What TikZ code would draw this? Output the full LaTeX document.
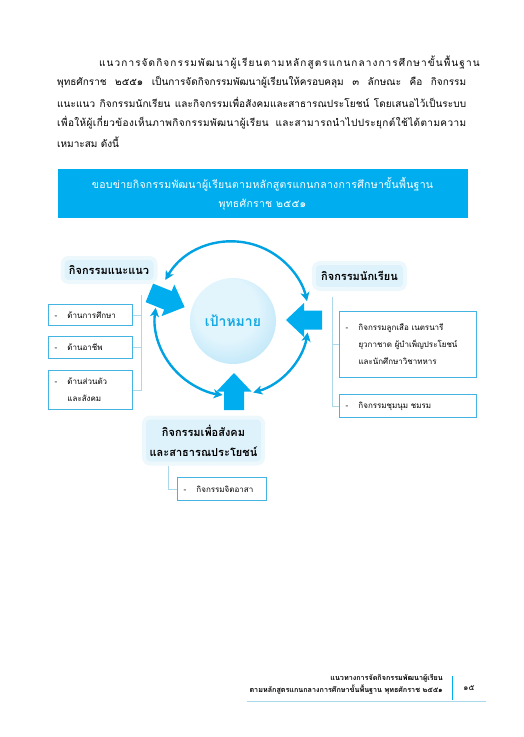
\documentclass[tikz,border=0pt]{standalone}
\usepackage{fontspec}
\usepackage{tikz}
\usetikzlibrary{arrows.meta, positioning, calc}
\setmainfont{Loma}[Script=Thai]
\definecolor{bannercyan}{RGB}{0, 174, 239}
\definecolor{arccyan}{RGB}{0, 162, 226}
\definecolor{glowblue}{RGB}{222, 242, 252}
\definecolor{boxcyan}{RGB}{70, 180, 226}
\definecolor{stemblue}{RGB}{172, 216, 236}
\definecolor{goaltext}{RGB}{22, 168, 226}
\definecolor{goalin}{RGB}{226, 245, 253}
\definecolor{goalout}{RGB}{140, 210, 242}
\pgfdeclareradialshading{goalglow}{\pgfpoint{-6bp}{10bp}}{color(0bp)=(goalin); color(18bp)=(goalin); color(38bp)=(goalout!70); color(50bp)=(goalout)}

\tikzset{
    paraline/.style={anchor=west, inner sep=0pt, font=\fontsize{10}{12}\selectfont},
    glowlabel/.style={fill=glowblue, draw=glowblue!55, line width=4pt, rounded corners=6pt,
        font=\bfseries\fontsize{11}{20}\selectfont, align=center, inner sep=2pt},
    leafbox/.style={draw=boxcyan, line width=1pt, fill=white, anchor=north west,
        font=\fontsize{8}{17}\selectfont, align=left, inner xsep=6pt, inner ysep=0pt},
    blockarrow/.style={fill=bannercyan},
    cyclearc/.style={draw=arccyan, line width=2.4pt,
        {Stealth[length=9pt,width=9pt,inset=2.5pt]}-{Stealth[length=9pt,width=9pt,inset=2.5pt]}},
    stem/.style={draw=stemblue, line width=0.7pt}
}

\begin{document}
\begin{tikzpicture}[x=1pt, y=-1pt]
    \useasboundingbox (0,0) rectangle (524,737);

    % Paragraph
    \node[paraline] (p1) at (99,62.5) {\addfontfeature{LetterSpace=11}แนวการจัดกิจกรรมพัฒนาผู้เรียนตามหลักสูตรแกนกลางการศึกษาขั้นพื้นฐาน};
    \node[paraline] (p2) at (57,82.5) {\makebox[409pt][s]{พุทธศักราช ๒๕๕๑ เป็นการจัดกิจกรรมพัฒนาผู้เรียนให้ครอบคลุม ๓ ลักษณะ คือ กิจกรรม}};
    \node[paraline] (p3) at (57,102.5) {\addfontfeature{LetterSpace=1}\makebox[409pt][s]{แนะแนว กิจกรรมนักเรียน และกิจกรรมเพื่อสังคมและสาธารณประโยชน์ โดยเสนอไว้เป็นระบบ}};
    \node[paraline] (p4) at (57,122.5) {\addfontfeature{LetterSpace=4}\makebox[409pt][s]{เพื่อให้ผู้เกี่ยวข้องเห็นภาพกิจกรรมพัฒนาผู้เรียน และสามารถนำไปประยุกต์ใช้ได้ตามความ}};
    \node[paraline] (p5) at (57,142) {เหมาะสม ดังนี้};

    % Banner
    \node[fill=bannercyan, minimum width=410pt, minimum height=49pt, align=center, text=white,
        font=\fontsize{10.5}{19}\selectfont\addfontfeature{LetterSpace=2.5}] (banner) at (262.5,193.5)
        {ขอบข่ายกิจกรรมพัฒนาผู้เรียนตามหลักสูตรแกนกลางการศึกษาขั้นพื้นฐาน\\พุทธศักราช ๒๕๕๑};

    % Goal and cycle
    \coordinate (hub) at (232,318.5);
    \node[circle, minimum size=86pt, shading=goalglow, text=goaltext,
        font=\bfseries\fontsize{14}{18}\selectfont] (goal) at (233,321) {เป้าหมาย};

    \coordinate (topL) at ($(hub)+(210:77)$);
    \coordinate (leftT) at ($(hub)+(188:77)$);
    \coordinate (rightT) at ($(hub)+(10.5:77)$);
    \draw[cyclearc] (topL) arc[start angle=210, end angle=347, radius=77];
    \draw[cyclearc] (leftT) arc[start angle=188, end angle=97, radius=77];
    \draw[cyclearc] (rightT) arc[start angle=10.5, end angle=74, radius=77];

    % Block arrows into the goal
    \fill[blockarrow, shift={(167,300)}, rotate=-22] (-19,-10) -- (1,-10) -- (1,-17) -- (19,0) -- (1,17) -- (1,10) -- (-19,10) -- cycle;
    \fill[blockarrow, shift={(304,320)}, rotate=180] (-18,-9.5) -- (0,-9.5) -- (0,-17) -- (18,0) -- (0,17) -- (0,9.5) -- (-18,9.5) -- cycle;
    \fill[blockarrow, shift={(234,391.5)}, rotate=90] (-18.5,-10) -- (0,-10) -- (0,-17.5) -- (18.5,0) -- (0,17.5) -- (0,10) -- (-18.5,10) -- cycle;

    % Activity labels
    \node[glowlabel, minimum width=93pt, minimum height=24pt] (guide) at (109,270) {กิจกรรมแนะแนว};
    \node[glowlabel, minimum width=91pt, minimum height=26pt] (student) at (359.5,276) {กิจกรรมนักเรียน};
    \node[glowlabel, minimum width=119pt, minimum height=46pt] (society) at (203.5,440.5)
        {กิจกรรมเพื่อสังคม\\และสาธารณประโยชน์};

    % Guidance items
    \node[leafbox, text width=72pt, minimum height=21pt] (edu) at (48,304)
        {\makebox[13pt][l]{-}ด้านการศึกษา};
    \node[leafbox, text width=72pt, minimum height=22pt] (career) at (48,336)
        {\makebox[13pt][l]{-}ด้านอาชีพ};
    \node[leafbox, text width=72pt, minimum height=39pt] (self) at (48,370)
        {\makebox[13pt][l]{-}ด้านส่วนตัว\\\hspace*{13pt}และสังคม};
    \coordinate (spineL) at (141,295);
    \draw[stem] (spineL) |- (edu.east);
    \draw[stem] (spineL) |- (career.east);
    \draw[stem] (spineL) |- (self.east);

    % Student items
    \node[leafbox, text width=125pt, minimum height=66pt] (scout) at (339,311)
        {\makebox[13pt][l]{-}กิจกรรมลูกเสือ เนตรนารี\\\hspace*{13pt}ยุวกาชาด ผู้บำเพ็ญประโยชน์\\\hspace*{13pt}และนักศึกษาวิชาทหาร};
    \node[leafbox, text width=125pt, minimum height=23pt] (club) at (339,394)
        {\makebox[13pt][l]{-}กิจกรรมชุมนุม ชมรม};
    \coordinate (spineR) at (332,297);
    \draw[stem] (spineR) |- (scout.west);
    \draw[stem] (spineR) |- (club.west);

    % Society item
    \node[leafbox, text width=77pt, minimum height=23pt] (volunteer) at (177,477)
        {\makebox[13pt][l]{-}กิจกรรมจิตอาสา};
    \coordinate (spineB) at (168,466);
    \draw[stem] (spineB) |- (volunteer.west);

    % Footer
    \node[anchor=east, align=right, inner sep=0pt, font=\bfseries\fontsize{7.2}{12}\selectfont] (foot) at (443,684)
        {แนวทางการจัดกิจกรรมพัฒนาผู้เรียน\\ตามหลักสูตรแกนกลางการศึกษาขั้นพื้นฐาน พุทธศักราช ๒๕๕๑};
    \node[font=\fontsize{8}{10}\selectfont] (pageno) at (469,688) {๑๕};
    \draw[bannercyan, line width=1pt] (452,676) -- (452,700);
    \draw[stemblue, line width=0.8pt] (247,701) -- (486,701);
\end{tikzpicture}
\end{document}
